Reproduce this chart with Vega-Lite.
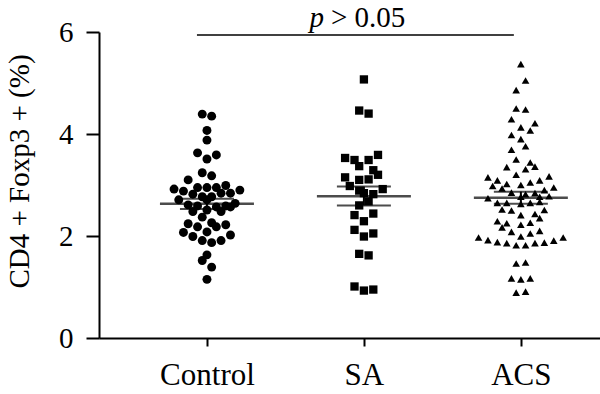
{
  "$schema": "https://vega.github.io/schema/vega-lite/v6.json",
  "width": 501,
  "height": 306,
  "autosize": {"type": "none"},
  "padding": {"left": 99, "top": 32, "right": 0, "bottom": 56},
  "background": "white",
  "config": {"view": {"stroke": null}, "font": "Liberation Serif"},
  "datasets": {
    "points": [
      {"g":"Control","v":4.39,"s":-0.5},{"g":"Control","v":4.35,"s":0.5},{"g":"Control","v":4.07,"s":0},{"g":"Control","v":3.88,"s":0},
      {"g":"Control","v":3.63,"s":-1},{"g":"Control","v":3.51,"s":0},{"g":"Control","v":3.59,"s":1},{"g":"Control","v":3.24,"s":-0.5},
      {"g":"Control","v":3.18,"s":0.5},{"g":"Control","v":3.10,"s":-2},{"g":"Control","v":2.92,"s":-3.5},{"g":"Control","v":2.88,"s":-2.5},
      {"g":"Control","v":2.95,"s":-1},{"g":"Control","v":2.95,"s":0},{"g":"Control","v":2.95,"s":1},{"g":"Control","v":2.99,"s":2},
      {"g":"Control","v":2.90,"s":3.5},{"g":"Control","v":2.82,"s":-1.5},{"g":"Control","v":2.77,"s":-0.5},{"g":"Control","v":2.77,"s":0.5},
      {"g":"Control","v":2.84,"s":1.5},{"g":"Control","v":2.84,"s":2.5},{"g":"Control","v":2.71,"s":-3},{"g":"Control","v":2.61,"s":-2},
      {"g":"Control","v":2.59,"s":-1},{"g":"Control","v":2.71,"s":0},{"g":"Control","v":2.57,"s":1},{"g":"Control","v":2.59,"s":2},
      {"g":"Control","v":2.64,"s":3},{"g":"Control","v":2.48,"s":-1.5},{"g":"Control","v":2.51,"s":0},{"g":"Control","v":2.48,"s":1.5},
      {"g":"Control","v":2.57,"s":2.5},{"g":"Control","v":2.37,"s":-0.5},{"g":"Control","v":2.24,"s":-2},{"g":"Control","v":2.26,"s":0.5},
      {"g":"Control","v":2.18,"s":-1},{"g":"Control","v":2.18,"s":1},{"g":"Control","v":2.22,"s":2},{"g":"Control","v":2.08,"s":0},
      {"g":"Control","v":2.07,"s":-2.5},{"g":"Control","v":1.99,"s":-1.5},{"g":"Control","v":1.91,"s":-0.5},{"g":"Control","v":1.87,"s":0.5},
      {"g":"Control","v":1.91,"s":1.5},{"g":"Control","v":2.02,"s":2.5},{"g":"Control","v":1.63,"s":0},{"g":"Control","v":1.52,"s":-0.5},
      {"g":"Control","v":1.39,"s":0.5},{"g":"Control","v":1.15,"s":0},
      {"g":"SA","v":5.07,"s":0},{"g":"SA","v":4.46,"s":-0.5},{"g":"SA","v":4.40,"s":0.5},{"g":"SA","v":3.53,"s":-2},
      {"g":"SA","v":3.49,"s":-1},{"g":"SA","v":3.37,"s":-0.5},{"g":"SA","v":3.49,"s":0.5},{"g":"SA","v":3.59,"s":1.5},
      {"g":"SA","v":3.29,"s":1},{"g":"SA","v":3.15,"s":-2},{"g":"SA","v":3.10,"s":-0.5},{"g":"SA","v":3.11,"s":0.5},
      {"g":"SA","v":3.20,"s":1.5},{"g":"SA","v":2.98,"s":-1.5},{"g":"SA","v":2.89,"s":-0.5},{"g":"SA","v":2.92,"s":2},
      {"g":"SA","v":2.84,"s":0},{"g":"SA","v":2.82,"s":1},{"g":"SA","v":2.68,"s":0.5},{"g":"SA","v":2.60,"s":-0.5},
      {"g":"SA","v":2.41,"s":-1},{"g":"SA","v":2.44,"s":1},{"g":"SA","v":2.29,"s":0},{"g":"SA","v":2.12,"s":-1},
      {"g":"SA","v":2.05,"s":1},{"g":"SA","v":1.99,"s":0},{"g":"SA","v":1.65,"s":-0.5},{"g":"SA","v":1.62,"s":0.5},
      {"g":"SA","v":1.01,"s":-1},{"g":"SA","v":0.93,"s":0},{"g":"SA","v":0.95,"s":1},
      {"g":"ACS","v":5.37,"s":0},{"g":"ACS","v":5.05,"s":0.5},{"g":"ACS","v":4.86,"s":-0.5},{"g":"ACS","v":4.50,"s":-0.5},
      {"g":"ACS","v":4.48,"s":0.5},{"g":"ACS","v":4.29,"s":-1},{"g":"ACS","v":4.21,"s":1.5},{"g":"ACS","v":4.13,"s":0},
      {"g":"ACS","v":4.07,"s":1},{"g":"ACS","v":3.98,"s":-1},{"g":"ACS","v":3.90,"s":0},{"g":"ACS","v":3.76,"s":0.5},
      {"g":"ACS","v":3.69,"s":-1},{"g":"ACS","v":3.50,"s":-0.5},{"g":"ACS","v":3.44,"s":1},{"g":"ACS","v":3.36,"s":1.5},
      {"g":"ACS","v":3.35,"s":-1.5},{"g":"ACS","v":3.31,"s":0.5},{"g":"ACS","v":3.20,"s":-0.5},{"g":"ACS","v":3.15,"s":-3.5},
      {"g":"ACS","v":3.09,"s":-2.5},{"g":"ACS","v":3.17,"s":3},{"g":"ACS","v":3.09,"s":2},{"g":"ACS","v":3.05,"s":1},
      {"g":"ACS","v":3.00,"s":0},{"g":"ACS","v":3.02,"s":-1.5},{"g":"ACS","v":2.98,"s":-3},{"g":"ACS","v":2.93,"s":-2},
      {"g":"ACS","v":2.95,"s":3.5},{"g":"ACS","v":2.90,"s":2.5},{"g":"ACS","v":2.85,"s":-1},{"g":"ACS","v":2.84,"s":1.5},
      {"g":"ACS","v":2.82,"s":0.5},{"g":"ACS","v":2.77,"s":0},{"g":"ACS","v":2.74,"s":-3.5},{"g":"ACS","v":2.77,"s":2},
      {"g":"ACS","v":2.78,"s":3},{"g":"ACS","v":2.65,"s":-2.5},{"g":"ACS","v":2.65,"s":-1.5},{"g":"ACS","v":2.63,"s":0},
      {"g":"ACS","v":2.65,"s":1},{"g":"ACS","v":2.67,"s":2},{"g":"ACS","v":2.52,"s":-2},{"g":"ACS","v":2.50,"s":-1},
      {"g":"ACS","v":2.51,"s":2.5},{"g":"ACS","v":2.43,"s":1.5},{"g":"ACS","v":2.41,"s":0},{"g":"ACS","v":2.35,"s":2},
      {"g":"ACS","v":2.29,"s":-2.5},{"g":"ACS","v":2.25,"s":-1.5},{"g":"ACS","v":2.17,"s":-2},{"g":"ACS","v":2.26,"s":1},
      {"g":"ACS","v":2.22,"s":0},{"g":"ACS","v":2.08,"s":-1},{"g":"ACS","v":2.10,"s":2},{"g":"ACS","v":2.05,"s":1},
      {"g":"ACS","v":1.99,"s":0},{"g":"ACS","v":1.97,"s":-4.5},{"g":"ACS","v":1.92,"s":-3.5},{"g":"ACS","v":1.88,"s":-2.5},
      {"g":"ACS","v":1.86,"s":-1.5},{"g":"ACS","v":1.82,"s":-0.5},{"g":"ACS","v":1.82,"s":0.5},{"g":"ACS","v":1.86,"s":1.5},
      {"g":"ACS","v":1.87,"s":2.5},{"g":"ACS","v":1.91,"s":3.5},{"g":"ACS","v":1.97,"s":4.5},{"g":"ACS","v":1.46,"s":-0.5},
      {"g":"ACS","v":1.48,"s":0.5},{"g":"ACS","v":1.17,"s":-1},{"g":"ACS","v":1.15,"s":0},{"g":"ACS","v":1.17,"s":1},
      {"g":"ACS","v":0.89,"s":-0.5},{"g":"ACS","v":0.91,"s":0.5}
    ],
    "summary": [
      {"g":"Control","mean":2.63,"lo":2.53,"hi":2.73},
      {"g":"SA","mean":2.78,"lo":2.60,"hi":2.97},
      {"g":"ACS","mean":2.75,"lo":2.63,"hi":2.87}
    ],
    "annot": [
      {"from":"Control","to":"ACS","mid":"SA","y":5.94,"p":"p","rest":"> 0.05"}
    ]
  },
  "layer": [
    {
      "data": {"name": "points"},
      "mark": {"type": "point", "filled": true, "opacity": 1, "color": "black", "strokeWidth": 0},
      "encoding": {
        "x": {
          "field": "g", "type": "nominal",
          "scale": {"type": "point", "domain": ["Control", "SA", "ACS"], "padding": 0.596, "align": 0.577},
          "axis": {
            "title": null, "labelAngle": 0, "labelFontSize": 31, "labelColor": "black",
            "labelFont": "Liberation Serif",
            "labelBaseline": "alphabetic", "labelPadding": 38,
            "tickSize": 8, "tickWidth": 2, "tickColor": "black",
            "domainWidth": 2, "domainColor": "black", "grid": false
          }
        },
        "xOffset": {"field": "s", "type": "quantitative", "scale": {"domain": [-5, 5], "range": [-47, 47]}},
        "y": {
          "field": "v", "type": "quantitative",
          "scale": {"domain": [0, 6], "nice": false},
          "axis": {
            "values": [0, 2, 4, 6], "grid": false,
            "labelFontSize": 29, "labelColor": "black", "labelPadding": 13,
            "labelFont": "Liberation Serif",
            "tickSize": 13, "tickWidth": 2, "tickColor": "black",
            "domainWidth": 2, "domainColor": "black",
            "title": "CD4 + Foxp3 + (%)", "titleFontSize": 29, "titleFontWeight": "normal", "titleColor": "black",
            "titleFont": "Liberation Serif",
            "titleAngle": -90, "titleX": -71, "titleY": 139, "titleAlign": "center", "titleBaseline": "alphabetic"
          }
        },
        "shape": {"field": "g", "type": "nominal", "scale": {"domain": ["Control", "SA", "ACS"], "range": ["circle", "square", "triangle-up"]}, "legend": null},
        "size": {"field": "g", "type": "ordinal", "scale": {"domain": ["Control", "SA", "ACS"], "range": [80, 58, 85]}, "legend": null}
      }
    },
    {
      "data": {"name": "summary"},
      "mark": {"type": "rule", "color": "black", "strokeWidth": 2},
      "encoding": {
        "x": {"field": "g", "type": "nominal"},
        "y": {"field": "lo", "type": "quantitative"},
        "y2": {"field": "hi"}
      }
    },
    {
      "data": {"name": "summary"},
      "mark": {"type": "tick", "color": "black", "size": 94, "thickness": 2.5, "orient": "horizontal"},
      "encoding": {
        "x": {"field": "g", "type": "nominal"},
        "y": {"field": "mean", "type": "quantitative"}
      }
    },
    {
      "data": {"name": "summary"},
      "mark": {"type": "tick", "color": "black", "size": 54, "thickness": 2, "orient": "horizontal"},
      "encoding": {
        "x": {"field": "g", "type": "nominal"},
        "y": {"field": "lo", "type": "quantitative"}
      }
    },
    {
      "data": {"name": "summary"},
      "mark": {"type": "tick", "color": "black", "size": 54, "thickness": 2, "orient": "horizontal"},
      "encoding": {
        "x": {"field": "g", "type": "nominal"},
        "y": {"field": "hi", "type": "quantitative"}
      }
    },
    {
      "data": {"name": "annot"},
      "mark": {"type": "rule", "color": "black", "strokeWidth": 1.5, "xOffset": -10, "x2Offset": -7},
      "encoding": {
        "x": {"field": "from", "type": "nominal"},
        "x2": {"field": "to"},
        "y": {"field": "y", "type": "quantitative"}
      }
    },
    {
      "data": {"name": "annot"},
      "mark": {"type": "text", "font": "Liberation Serif", "fontStyle": "italic", "fontSize": 29, "align": "right", "baseline": "alphabetic", "dx": -40, "dy": -8, "color": "black"},
      "encoding": {
        "x": {"field": "mid", "type": "nominal"},
        "y": {"field": "y", "type": "quantitative"},
        "text": {"field": "p"}
      }
    },
    {
      "data": {"name": "annot"},
      "mark": {"type": "text", "font": "Liberation Serif", "fontSize": 29, "align": "left", "baseline": "alphabetic", "dx": -33, "dy": -8, "color": "black"},
      "encoding": {
        "x": {"field": "mid", "type": "nominal"},
        "y": {"field": "y", "type": "quantitative"},
        "text": {"field": "rest"}
      }
    }
  ]
}
